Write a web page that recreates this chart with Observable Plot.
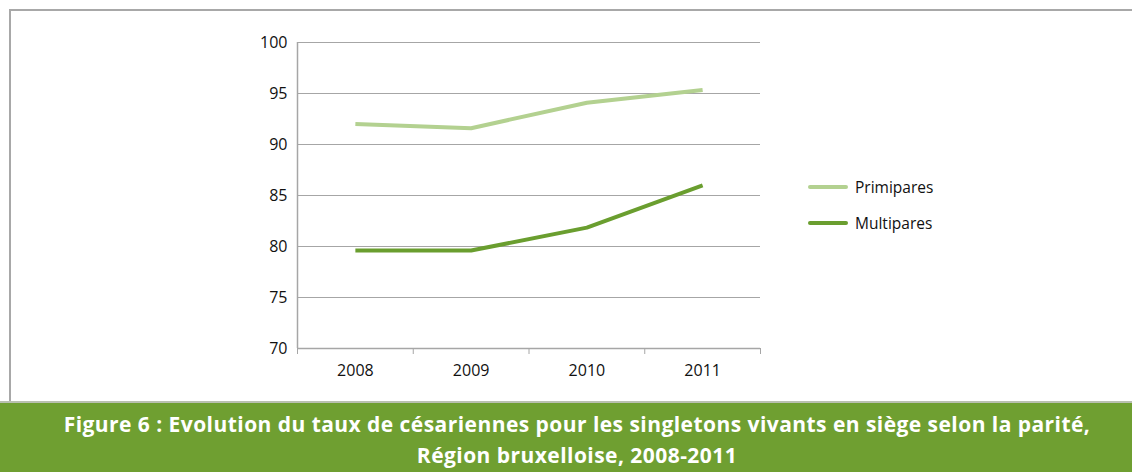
<!DOCTYPE html>
<html>
<head>
<meta charset="utf-8">
<script src="https://cdn.jsdelivr.net/npm/d3@7"></script>
<script src="https://cdn.jsdelivr.net/npm/@observablehq/plot@0.6"></script>
<style>
  html, body { margin: 0; padding: 0; background: #fff; }
  #wrap { position: relative; width: 1132px; height: 472px; overflow: hidden; font-family: "Open Sans", sans-serif; }
  #frame { position: absolute; left: 9px; top: 9px; width: 1140px; height: 392px; border-left: 2px solid #a8a8a8; border-top: 2px solid #a8a8a8; box-sizing: border-box; }
  #chart { position: absolute; left: 0; top: 0; }
  #legend { position: absolute; left: 808px; top: 169px; font-family: "Open Sans", sans-serif; font-size: 15.5px; color: #111; }
  .li { display: flex; align-items: center; height: 36px; }
  .sw { width: 40px; height: 4px; border-radius: 2px; margin-right: 7px; }
  #caption { position: absolute; left: 0; top: 401px; width: 1132px; height: 71px; background: #6f9f31; border-top: 2px solid #b9c0b0; box-sizing: border-box; color: #fff; font-family: "Open Sans", sans-serif; font-weight: 700; font-size: 21px; letter-spacing: 0.45px; line-height: 31px; text-align: center; padding-top: 6px; padding-left: 22px; white-space: nowrap; }
</style>
</head>
<body>
<div id="wrap">
  <div id="frame"></div>
  <div id="chart"></div>
  <div id="legend"></div>
  <div id="caption"></div>
</div>
<script>
const years = [2008, 2009, 2010, 2011];
const primipares = [92.0, 91.6, 94.1, 95.35];
const multipares = [79.6, 79.6, 81.85, 86.0];
const seriesNames = ["Primipares", "Multipares"];
const seriesColors = ["#b3d190", "#6a9e2f"];
const yTicks = [70, 75, 80, 85, 90, 95, 100];
const xEdges = [2007.5, 2008.5, 2009.5, 2010.5, 2011.5];
const captionLines = [
  "Figure 6 : Evolution du taux de césariennes pour les singletons vivants en siège selon la parité,",
  "Région bruxelloise, 2008-2011"
];

const data = [];
years.forEach((y, i) => {
  data.push({ year: y, value: primipares[i], series: seriesNames[0] });
  data.push({ year: y, value: multipares[i], series: seriesNames[1] });
});

const chart = Plot.plot({
  width: 1132,
  height: 400,
  marginLeft: 297,
  marginRight: 372,
  marginTop: 42,
  marginBottom: 52,
  style: { fontFamily: "'Open Sans', sans-serif", fontSize: "16px", color: "#111", background: "transparent" },
  x: { domain: [xEdges[0], xEdges[xEdges.length - 1]], label: null },
  y: { domain: [70, 100], label: null },
  color: { domain: seriesNames, range: seriesColors },
  marks: [
    Plot.gridY(yTicks, { stroke: "#a6a6a6", strokeOpacity: 1, strokeWidth: 1 }),
    Plot.ruleX([xEdges[0]], { stroke: "#a6a6a6", strokeWidth: 1.5 }),
    Plot.ruleY([70], { stroke: "#a6a6a6", strokeWidth: 1.5 }),
    Plot.axisY(yTicks, { tickSize: 0, tickPadding: 10, fontSize: 16, fill: "#111", tickFormat: d => String(d), label: null }),
    Plot.axisX(xEdges, { tickSize: 6, stroke: "#a6a6a6", tickFormat: () => "", label: null }),
    Plot.axisX(years, { tickSize: 0, tickPadding: 16, fontSize: 16, fill: "#111", tickFormat: d => String(d), label: null }),
    Plot.line(data, { x: "year", y: "value", z: "series", stroke: "series", strokeWidth: 4, strokeLinecap: "butt", strokeLinejoin: "round" })
  ]
});
document.getElementById("chart").appendChild(chart);

const legend = document.getElementById("legend");
seriesNames.forEach((n, i) => {
  const row = document.createElement("div");
  row.className = "li";
  const sw = document.createElement("div");
  sw.className = "sw";
  sw.style.background = seriesColors[i];
  const t = document.createElement("span");
  t.textContent = n;
  row.appendChild(sw);
  row.appendChild(t);
  legend.appendChild(row);
});

const cap = document.getElementById("caption");
captionLines.forEach(l => {
  const d = document.createElement("div");
  d.textContent = l;
  cap.appendChild(d);
});
</script>
</body>
</html>
